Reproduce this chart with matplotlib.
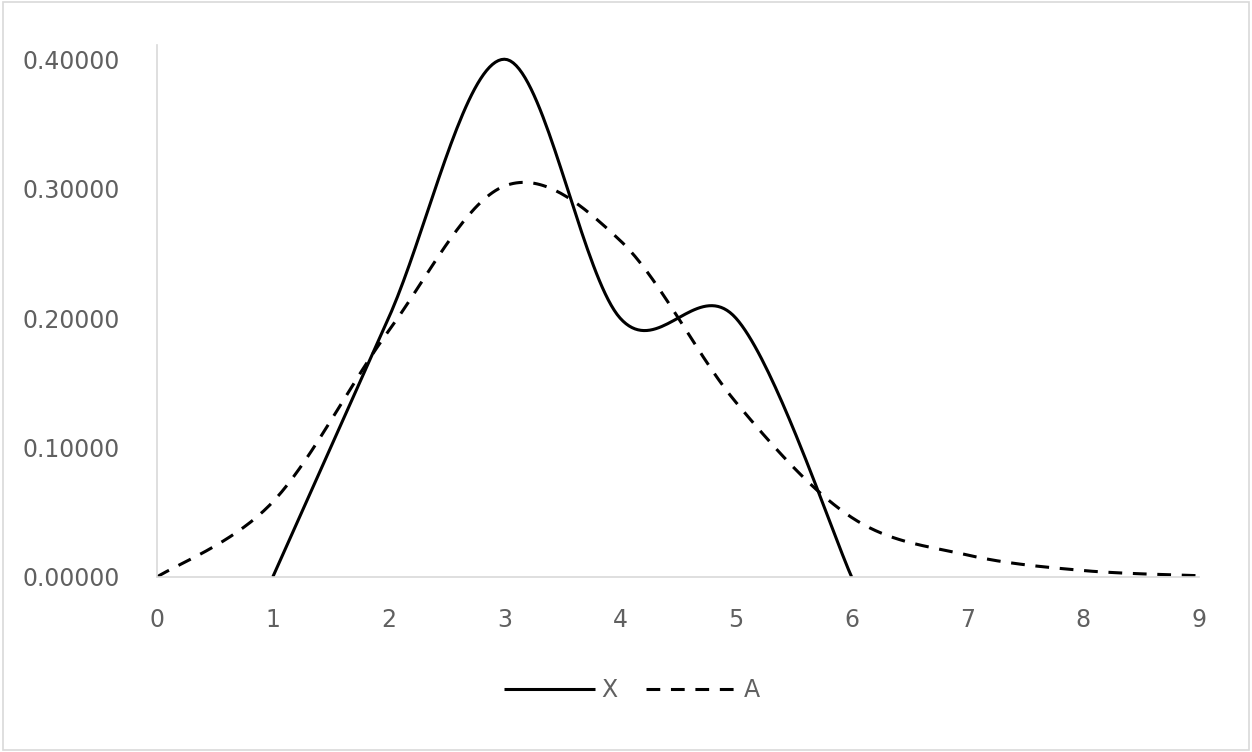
""" Two smoothed distributions X and A, Excel-style line chart."""
import numpy as np
import matplotlib.pyplot as plt
from matplotlib.patches import Rectangle

# data
x_pts = [1, 2, 3, 4, 5, 6]
x_vals = [0.0, 0.2, 0.4, 0.2, 0.2, 0.0]

a_pts = [0, 1, 2, 3, 4, 5, 6, 7, 8, 9]
a_vals = [0.0, 0.058, 0.19, 0.302, 0.26, 0.135, 0.046, 0.017, 0.005, 0.001]

y_ticks = [0.0, 0.1, 0.2, 0.3, 0.4]
x_ticks = list(range(10))


def smooth(xs, ys, n=40):
	# Catmull-Rom style bezier, similar to the spreadsheet "smoothed line"
	p = np.column_stack([xs, ys]).astype(float)
	p = np.vstack([p[0], p, p[-1]])
	out = []
	for i in range(1, len(p) - 2):
		p0, p1, p2, p3 = p[i - 1], p[i], p[i + 1], p[i + 2]
		c1 = p1 + (p2 - p0) / 6
		c2 = p2 - (p3 - p1) / 6
		t = np.linspace(0, 1, n)[:, None]
		seg = ((1 - t) ** 3) * p1 + 3 * ((1 - t) ** 2) * t * c1 + 3 * (1 - t) * t ** 2 * c2 + t ** 3 * p2
		out.append(seg if i == 1 else seg[1:])
	out = np.vstack(out)
	return out[:, 0], out[:, 1]


plt.rcParams['font.family'] = ['DejaVu Sans']
grey = '#606060'

fig = plt.figure(figsize=(12.52, 7.52), dpi=100)
ax = fig.add_axes([157 / 1252, 1 - 577 / 752, (1199 - 157) / 1252, (577 - 45) / 752])

sx, sy = smooth(x_pts, x_vals)
ax.plot(sx, sy, color='black', lw=2.2, label='X', solid_capstyle='butt')
sx, sy = smooth(a_pts, a_vals)
ax.plot(sx, sy, color='black', lw=2.2, ls=(0, (4.5, 3.5)), label='A')

ax.set_xlim(0, 9)
ax.set_ylim(0, 0.411)
ax.set_xticks(x_ticks)
ax.set_yticks(y_ticks)
ax.set_yticklabels(['%.5f' % v for v in y_ticks])
ax.tick_params(length=0, labelsize=17, colors=grey)
ax.tick_params(axis='x', pad=22)
ax.tick_params(axis='y', pad=27)

for s in ['top', 'right']:
	ax.spines[s].set_visible(False)
for s in ['left', 'bottom']:
	ax.spines[s].set_color('#d9d9d9')
	ax.spines[s].set_linewidth(1.2)

leg = fig.legend(loc='center', bbox_to_anchor=(632 / 1252, 1 - 690 / 752), ncol=2, frameon=False,
	fontsize=17, handlelength=3.85, columnspacing=1.2, handletextpad=0.3)
for t in leg.get_texts():
	t.set_color(grey)

# chart area border
fig.patches.append(Rectangle((0.002, 0.002), 0.996, 0.996, transform=fig.transFigure,
	fill=False, edgecolor='#d9d9d9', lw=1.2))

fig.savefig('out.png', dpi=100)
